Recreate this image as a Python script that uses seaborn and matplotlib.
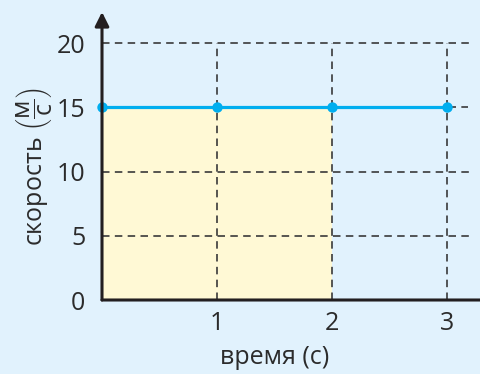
import matplotlib
matplotlib.use("Agg")
import matplotlib.pyplot as plt
import seaborn as sns
import pandas as pd

# data
times = [0, 1, 2, 3]
speed = [15, 15, 15, 15]
fill_times = [0, 1, 2]
fill_speed = [15, 15, 15]
yticks = [0, 5, 10, 15, 20]
xticks = [1, 2, 3]
xlabel = "время (с)"
ylabel = r"скорость $\left(\dfrac{\mathrm{м}}{\mathrm{с}}\right)$"

sns.set_theme(style="white")
plt.rcParams['font.family'] = ['Open Sans', 'DejaVu Sans']
plt.rcParams['mathtext.fontset'] = 'custom'
plt.rcParams['mathtext.rm'] = 'Open Sans'
plt.rcParams['mathtext.it'] = 'Open Sans'

BG = '#E1F2FD'
DARK = '#231F20'
TXT = '#2B2B2B'
BLUE = '#00AEEF'
FILL = '#FFF9D5'
FS = 18

W, H = 481, 374
fig = plt.figure(figsize=(W / 100, H / 100), dpi=100, facecolor=BG)
x0, y0 = 102, 300
ax = fig.add_axes([x0 / W, (H - y0) / H, (W - x0) / W, (y0 - 12) / H])
ax.set_facecolor(BG)
px_x = 115.0
px_y = 12.85
ax.set_xlim(0, (W - x0) / px_x)
ax.set_ylim(0, (y0 - 12) / px_y)

xmax_grid = (472 - x0) / px_x
ax.fill_between(fill_times, fill_speed, 0, color=FILL, zorder=1, linewidth=0)

grid_kw = dict(color='#3a3a3a', linewidth=1.2, linestyles=(0, (4.5, 3.2)), zorder=2)
for yv in [5, 10, 20]:
    ax.hlines(yv, 0, xmax_grid, **grid_kw)
ax.hlines(15, 0, (468 - x0) / px_x, **grid_kw)
for xv in xticks:
    ax.vlines(xv, 0, 20, **grid_kw)

df = pd.DataFrame({"t": times, "v": speed})
sns.lineplot(data=df, x="t", y="v", ax=ax, color=BLUE, linewidth=2.3,
             marker='o', markersize=7.5, markeredgewidth=0, zorder=4, clip_on=False)

for s in ax.spines.values():
    s.set_visible(False)

# axes with arrows
ax.annotate('', xy=(0, 1.0), xycoords='axes fraction', xytext=(0, 0),
            arrowprops=dict(arrowstyle='-|>,head_length=0.7,head_width=0.35', color=DARK,
                            lw=2.2, shrinkA=0, shrinkB=0), annotation_clip=False, zorder=5)
ax.annotate('', xy=(1.06, 0), xycoords='axes fraction', xytext=(0, 0),
            arrowprops=dict(arrowstyle='-|>,head_length=0.7,head_width=0.35', color=DARK,
                            lw=2.2, shrinkA=0, shrinkB=0), annotation_clip=False, zorder=5)

ax.set_xticks(xticks)
ax.set_yticks(yticks)
ax.set_xticklabels([str(v) for v in xticks])
ax.set_yticklabels([str(v) for v in yticks])
ax.tick_params(axis='both', length=0, labelsize=FS, colors=TXT)
ax.tick_params(axis='y', pad=12)
ax.tick_params(axis='x', pad=8)
ax.set_xlabel('')
ax.set_ylabel('')

fig.text(275 / W, (H - 357) / H, xlabel, ha='center', va='center', fontsize=FS, color=TXT)
fig.text(34 / W, (H - 167) / H, ylabel, ha='center', va='center', fontsize=FS,
         color=TXT, rotation=90)

fig.savefig('out.png', dpi=100, facecolor=BG)
